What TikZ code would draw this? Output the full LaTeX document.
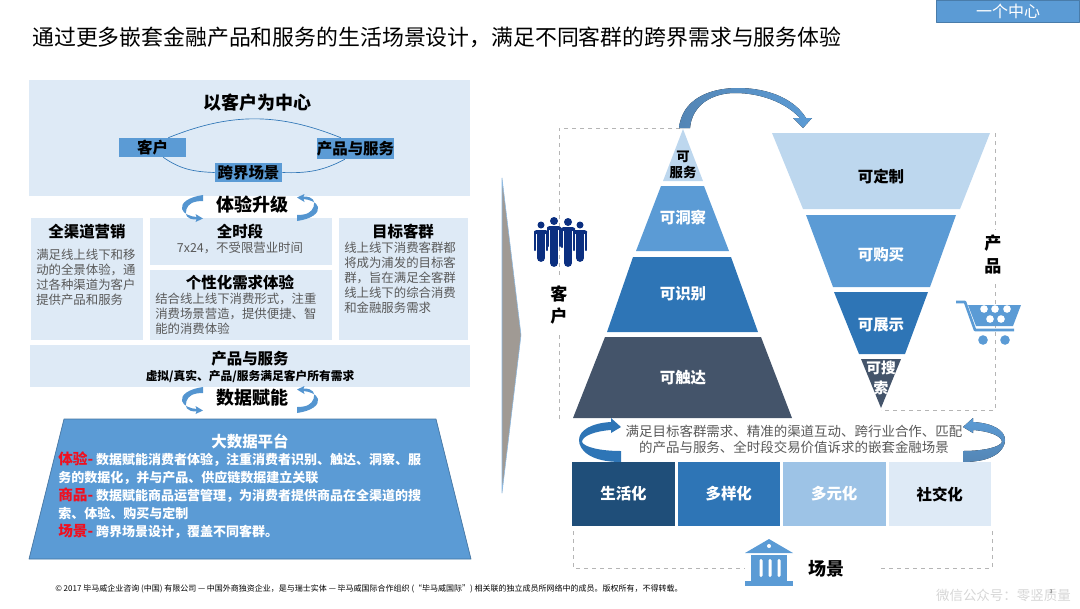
\documentclass[tikz,border=0pt]{standalone}
\usepackage{fontspec}
\setmainfont{Noto Sans CJK SC}
\definecolor{panelblue}{HTML}{DEEAF6}
\definecolor{midblue}{HTML}{5B9BD5}
\definecolor{deepblue}{HTML}{2E75B6}
\definecolor{paleblue}{HTML}{BDD7EE}
\definecolor{softblue}{HTML}{9DC3E6}
\definecolor{navyblue}{HTML}{1F4E79}
\definecolor{slateblue}{HTML}{44546A}
\definecolor{peopleblue}{HTML}{0B2F80}
\definecolor{bodygrey}{HTML}{595959}
\definecolor{dashgrey}{HTML}{B5B5B5}
\definecolor{chevrongrey}{HTML}{A09A94}
\definecolor{alertred}{HTML}{F01020}
\def\px{0.75pt}
\tikzset{
  headtext/.style={font=\fontsize{11.6}{14}\selectfont\bfseries, inner sep=0pt},
  bigtext/.style={font=\fontsize{13.5}{16}\selectfont\bfseries, inner sep=0pt},
  bodytext/.style={font=\fontsize{9.3}{11.25}\selectfont, text=bodygrey, align=left, inner sep=0pt},
  tierwhite/.style={headtext, text=white},
  ringbox/.style={fill=midblue, headtext, minimum height=19*\px, inner sep=0pt},
  ringline/.style={draw=deepblue, line width=0.5pt},
  dashline/.style={draw=dashgrey, dashed, line width=0.6pt},
  pics/uturn/.style={code={
    \fill[midblue!85!deepblue] (10.5,-13) .. controls (-4,-11) and (-12,-5) .. (-10.5,1)
      .. controls (-9,6) and (-2,8.5) .. (4,9) -- (3,6) -- (10.5,10.5) -- (3,14) -- (4,11.5)
      .. controls (-6,11.5) and (-8,7) .. (-6,1) .. controls (-4,-4) and (0,-7) .. (10.5,-7) -- cycle;
  }},
}
\begin{document}
\begin{tikzpicture}[x=0.75pt, y=-0.75pt, line join=round, >=stealth]
  \useasboundingbox (0,0) rectangle (1080,608);

  % Title and header tab
  \node[font=\fontsize{16.4}{20}\selectfont, anchor=west, inner sep=0pt] (pagetitle) at (32,37)
    {通过更多嵌套金融产品和服务的生活场景设计，满足不同客群的跨界需求与服务体验};
  \node[fill=midblue, draw=midblue!80!black, line width=0.4pt, minimum width=143*\px, minimum height=22*\px,
    text=white, inner sep=0pt, font=\fontsize{12}{14}\selectfont] (headertab) at (1008,11) {一个中心};

  % Left column panels
  \fill[panelblue] (29,80) rectangle (470,196);
  \fill[panelblue] (31,218) rectangle (143,340);
  \fill[panelblue] (150,218) rectangle (332,265);
  \fill[panelblue] (150,270) rectangle (332,340);
  \fill[panelblue] (339,218) rectangle (468,340);
  \fill[panelblue] (30,345) rectangle (470,387);

  % Customer ring
  \node[bigtext] (ringtitle) at (257,103) {以客户为中心};
  \node[ringbox, minimum width=67*\px] (ringkehu) at (152.5,147.5) {客户};
  \node[ringbox, minimum width=77*\px, minimum height=21*\px] (ringchanpin) at (355.5,148.5) {产品与服务};
  \node[ringbox, minimum width=67*\px] (ringchangjing) at (248.5,172.5) {跨界场景};
  \draw[ringline] ([xshift=-13.5]ringkehu.north east) to[out=22, in=158] ([xshift=-11]ringchanpin.north);
  \draw[ringline] ([xshift=8]ringkehu.south) to[out=-35, in=178] (ringchangjing.west);
  \draw[ringline] (ringchangjing.east) to[out=-2, in=208] ([xshift=-8]ringchanpin.south);

  % Upgrade row
  \pic at (192.5,208) {uturn};
  \pic[rotate=180] at (307.5,208) {uturn};
  \node[bigtext] (upgradelabel) at (252,205) {体验升级};

  % Four text panels
  \node[headtext] (qudaohead) at (87,232) {全渠道营销};
  \node[bodytext, anchor=north west] (qudaobody) at (36,248.5) {满足线上线下和移\\动的全景体验，通\\过各种渠道为客户\\提供产品和服务};
  \node[headtext] (shiduanhead) at (240,232) {全时段};
  \node[bodytext, anchor=center] (shiduanbody) at (240,248) {7x24，不受限营业时间};
  \node[headtext] (gexinghead) at (240,283) {个性化需求体验};
  \node[bodytext, anchor=north west] (gexingbody) at (155,292.5) {结合线上线下消费形式，注重\\消费场景营造，提供便捷、智\\能的消费体验};
  \node[headtext] (kequnhead) at (403,232) {目标客群};
  \node[bodytext, anchor=north west] (kequnbody) at (344,241.5) {线上线下消费客群都\\将成为浦发的目标客\\群，旨在满足全客群\\线上线下的综合消费\\和金融服务需求};

  % Product band
  \node[headtext] (bandhead) at (250,359) {产品与服务};
  \node[font=\fontsize{8.8}{11}\selectfont\bfseries, inner sep=0pt] (bandbody) at (250,376) {虚拟/真实、产品/服务满足客户所有需求};
  \pic at (192.5,400) {uturn};
  \pic[rotate=180] at (307.5,400) {uturn};
  \node[bigtext] (datalabel) at (252,398) {数据赋能};

  % Data platform
  \draw[fill=midblue, draw=midblue!75!black, line width=0.5pt] (64,419) -- (436,419) -- (471,559) -- (29,559) -- cycle;
  \node[tierwhite] (platformhead) at (250,441) {大数据平台};
  \node[font=\fontsize{9.75}{13.5}\selectfont\bfseries, text=white, align=left, anchor=west, inner sep=0pt] (platformbody) at (58,495)
    {\textcolor{alertred}{\fontsize{11}{13.5}\selectfont 体验-} 数据赋能消费者体验，注重消费者识别、触达、洞察、服\\
     务的数据化，并与产品、供应链数据建立关联\\
     \textcolor{alertred}{\fontsize{11}{13.5}\selectfont 商品-} 数据赋能商品运营管理，为消费者提供商品在全渠道的搜\\
     索、体验、购买与定制\\
     \textcolor{alertred}{\fontsize{11}{13.5}\selectfont 场景-} 跨界场景设计，覆盖不同客群。};

  % Chevron between the columns
  \draw[fill=chevrongrey, draw=midblue!70!white, line width=0.4pt] (502,178) -- (521,335) -- (502,493) -- cycle;

  % Dashed frames
  \draw[dashline] (680,128) -- (559,128) -- (559,278);
  \draw[dashline] (559,335) -- (559,421);
  \draw[dashline] (995,133) -- (995,230);
  \draw[dashline] (995,284) -- (995,410) -- (881,410);
  \draw[dashline] (573,531) -- (573,568) -- (745,568);
  \draw[dashline] (881,568) -- (992,568) -- (992,531);

  % Pyramid
  \fill[paleblue] (683,129) -- (703,181) -- (663,181) -- cycle;
  \fill[midblue] (661,186) -- (704,186) -- (729,251) -- (636,251) -- cycle;
  \fill[deepblue] (633,257) -- (731,257) -- (758,332) -- (607,332) -- cycle;
  \fill[slateblue] (605,337) -- (761,337) -- (792,418) -- (573,418) -- cycle;
  \node[font=\fontsize{10}{12.5}\selectfont\bfseries, align=center, inner sep=0pt] (pyrserve) at (683,165) {可\\服务};
  \node[tierwhite] (pyrinsight) at (683,218) {可洞察};
  \node[tierwhite] (pyridentify) at (683,294) {可识别};
  \node[tierwhite] (pyrreach) at (683,378) {可触达};

  % Funnel
  \fill[paleblue] (772,133) -- (990,133) -- (960,209) -- (803,209) -- cycle;
  \fill[midblue] (806,215) -- (956,215) -- (930,287) -- (833,287) -- cycle;
  \fill[deepblue] (834,292) -- (928,292) -- (905,354) -- (859,354) -- cycle;
  \fill[slateblue] (861,359) -- (901,359) -- (881,408) -- cycle;
  \node[headtext] (funcustom) at (881,177) {可定制};
  \node[tierwhite] (funbuy) at (881,255) {可购买};
  \node[tierwhite] (funshow) at (881,325) {可展示};
  \node[font=\fontsize{11}{15}\selectfont\bfseries, text=white, align=center, inner sep=0pt] (funsearch) at (881,378) {可搜\\索};

  % Arrow from pyramid to funnel
  \fill[left color=midblue!70!slateblue, right color=midblue] (679,128) .. controls (682,100) and (708,88) .. (738,88)
    .. controls (770,88) and (795,100) .. (806,118) -- (812,118) -- (803,128) -- (793,118) -- (800,118)
    .. controls (785,102) and (760,93) .. (735,93) .. controls (712,93) and (692,105) .. (690,128) -- cycle;

  % Side labels
  \node[font=\fontsize{12.8}{17}\selectfont\bfseries, align=center, inner sep=1pt, fill=white] (sidekehu) at (559,305) {客\\户};
  \node[font=\fontsize{12.8}{17}\selectfont\bfseries, align=center, inner sep=1pt, fill=white] (sidechanpin) at (993,254.5) {产\\品};

  % People icon
  \foreach \cx/\hy/\rr/\by in {541/225/3.5/258, 580/225/3.5/258, 554/221/4/263, 568/222/4/263} {
    \fill[peopleblue] (\cx,\hy) circle (\rr);
    \fill[peopleblue, rounded corners=2pt] (\cx-7,\hy+5) rectangle (\cx+7,\hy+9);
    \draw[peopleblue, line width=5.8pt, line cap=round] (\cx,\hy+9) -- (\cx,\by);
    \draw[peopleblue, line width=1.7pt, line cap=round] (\cx-6,\hy+7) -- (\cx-6,\hy+25);
    \draw[peopleblue, line width=1.7pt, line cap=round] (\cx+6,\hy+7) -- (\cx+6,\hy+25);
  }

  % Cart icon
  \fill[midblue] (968,305) -- (1021,305) -- (1013,326) -- (976,326) -- cycle;
  \draw[midblue, line width=2pt] (956,302) -- (965,302) -- (975,330) -- (1014,330);
  \fill[midblue] (983,340) circle (4.8);
  \fill[midblue] (1005,340) circle (4.8);
  \foreach \cx/\cy in {984/309, 995/309, 1007/309, 990/319, 1001/319}
    \fill[white] (\cx,\cy) circle (3.8);

  % Bank icon
  \fill[midblue] (769,539) -- (793,553) -- (745,553) -- cycle;
  \fill[white] (769,546) circle (2);
  \fill[midblue] (751,555) rectangle (787,581);
  \fill[midblue] (745,581) rectangle (793,586);
  \foreach \cx in {761,770,779}
    \fill[white, rounded corners=1pt] (\cx-1.5,559) rectangle (\cx+1.5,577);
  \node[bigtext] (changjinglabel) at (826,569) {场景};

  % Circling arrows round the caption
  \fill[deepblue] (621,462) .. controls (590,462) and (579,450) .. (579,440) .. controls (579,430) and (592,423) .. (611,422)
    -- (611,418) -- (621,427) -- (611,433) -- (611,430) .. controls (595,431) and (582,436) .. (582,442)
    .. controls (584,447) and (600,451) .. (621,451) -- cycle;
  \fill[top color=midblue, bottom color=midblue!70!slateblue]
    (963,462) .. controls (994,462) and (1005,450) .. (1005,440) .. controls (1005,430) and (992,423) .. (973,422)
    -- (973,418) -- (963,427) -- (973,433) -- (973,430) .. controls (989,431) and (1002,436) .. (1002,442)
    .. controls (1000,447) and (984,451) .. (963,451) -- cycle;
  \node[font=\fontsize{10.1}{12}\selectfont, text=bodygrey, align=center, inner sep=0pt] (captionlabel) at (794,439)
    {满足目标客群需求、精准的渠道互动、跨行业合作、匹配\\的产品与服务、全时段交易价值诉求的嵌套金融场景};

  % Scene boxes
  \foreach \nm/\cx/\bw/\col/\txt/\lab in {
    boxlife/623.5/103/navyblue/white/生活化,
    boxvariety/728.75/102.5/deepblue/white/多样化,
    boxmulti/834.25/102.5/softblue/white/多元化,
    boxsocial/939.75/102.5/panelblue/black/社交化} {
    \node[fill=\col, text=\txt, headtext, minimum width=\bw*\px, minimum height=64*\px] (\nm) at (\cx,494) {\lab};
  }

  % Footer
  \node[font=\fontsize{6}{8}\selectfont, anchor=west, inner sep=0pt] (footerlabel) at (55,589)
    {© 2017 毕马威企业咨询 (中国) 有限公司 — 中国外商独资企业，是与瑞士实体 — 毕马威国际合作组织 (“毕马威国际”) 相关联的独立成员所网络中的成员。版权所有，不得转载。};
  \node[font=\fontsize{10.1}{12}\selectfont, text=black!16, anchor=east, inner sep=0pt] (watermark) at (1071,595) {微信公众号：零竖质量};
  \node[font=\fontsize{4}{5}\selectfont, text=black!60, inner sep=0pt] (pagenumber) at (1051,592) {3};
\end{tikzpicture}
\end{document}
